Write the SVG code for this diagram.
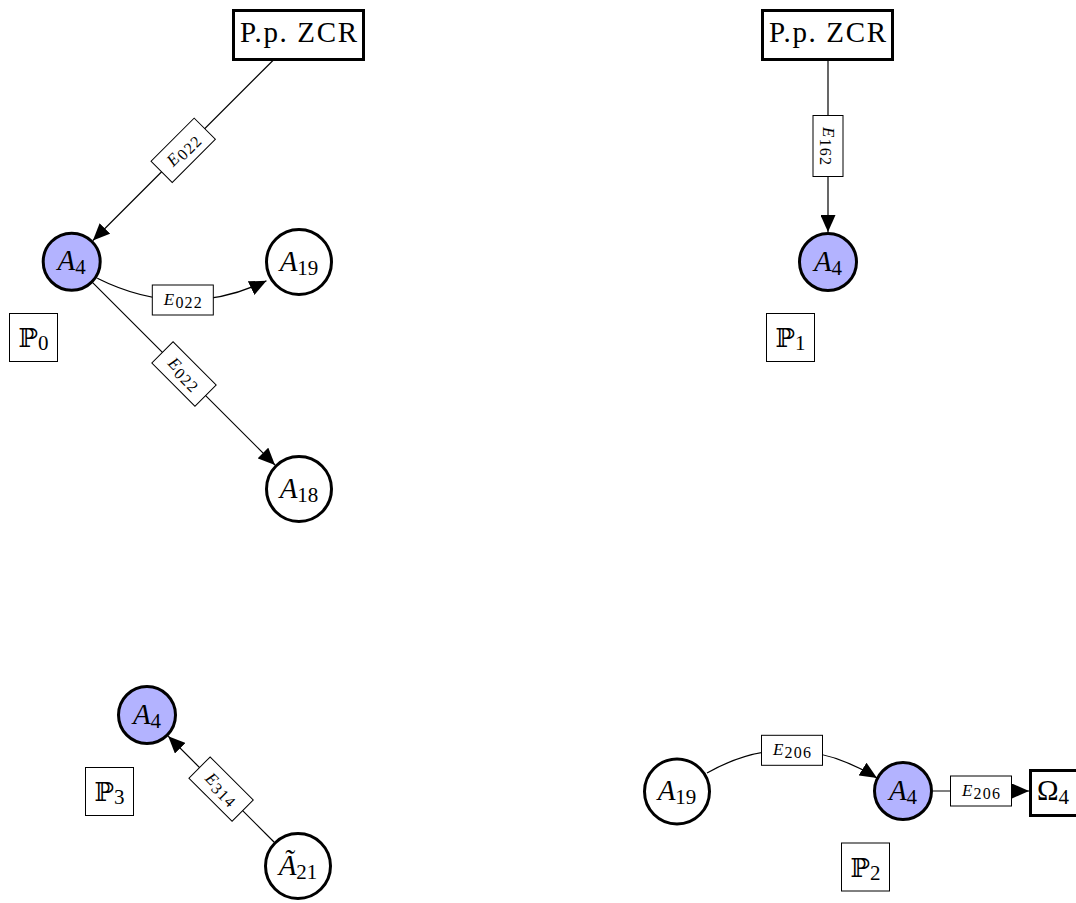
<svg xmlns="http://www.w3.org/2000/svg" width="1076" height="903" viewBox="0 0 1076 903">
<style>
.node{fill:#fff;stroke:#000;stroke-width:3}
.hl{fill:#b3b3ff}
.box{fill:#fff;stroke:#000;stroke-width:3}
.edge{fill:none;stroke:#000;stroke-width:1.2}
.lbox{fill:#fff;stroke:#000;stroke-width:1}
.pbox{fill:#fff;stroke:#000;stroke-width:1}
.nl{font-family:"Liberation Serif",serif;font-size:29px;text-anchor:middle;fill:#000}
.it{font-style:italic}
.sub{font-size:21px}
.el{font-family:"Liberation Serif",serif;font-size:17px;text-anchor:middle;fill:#000}
.esub{font-size:16px;font-style:normal}
.pl{font-family:"DejaVu Serif","DejaVu Sans",serif;font-size:26px;text-anchor:middle;fill:#000}
.psub{font-family:"Liberation Serif",serif;font-size:21px}
</style>
<defs>
<marker id="arr" markerUnits="userSpaceOnUse" markerWidth="17" markerHeight="15" refX="17" refY="7.5" orient="auto">
<path d="M0,0 L17,7.5 L0,15 z" fill="#000"/>
</marker>
</defs>

<g id="connectors">
<path class="edge" d="M273.4,60 L92.9,240.5" marker-end="url(#arr)"/>
<path class="edge" d="M97.3,278.3 Q182.4,320.9 266.5,280.8" marker-end="url(#arr)"/>
<path class="edge" d="M92.9,282.9 L275,465" marker-end="url(#arr)"/>
<path class="edge" d="M828,60 L828,232" marker-end="url(#arr)"/>
<path class="edge" d="M707,773 Q791.5,725.1 877,778" marker-end="url(#arr)"/>
<path class="edge" d="M933,791 L1029,791" marker-end="url(#arr)"/>
<path class="edge" d="M274,842 L168.2,736.2" marker-end="url(#arr)"/>

<g id="lbl-p0-a" transform="translate(183.2,150.3) rotate(-45)">
<rect class="lbox" x="-30.5" y="-15" width="61" height="30"/>
<text class="el" y="5" textLength="38" lengthAdjust="spacing"><tspan class="it">E</tspan><tspan class="esub" dy="3">022</tspan></text>
</g>
<g id="lbl-p0-b" transform="translate(182.8,300)">
<rect class="lbox" x="-30.5" y="-15" width="61" height="30"/>
<text class="el" y="5" textLength="38" lengthAdjust="spacing"><tspan class="it">E</tspan><tspan class="esub" dy="3">022</tspan></text>
</g>
<g id="lbl-p0-c" transform="translate(184,374) rotate(45)">
<rect class="lbox" x="-30.5" y="-15" width="61" height="30"/>
<text class="el" y="5" textLength="38" lengthAdjust="spacing"><tspan class="it">E</tspan><tspan class="esub" dy="3">022</tspan></text>
</g>
<g id="lbl-p1" transform="translate(828,146) rotate(90)">
<rect class="lbox" x="-30.5" y="-15" width="61" height="30"/>
<text class="el" y="5" textLength="38" lengthAdjust="spacing"><tspan class="it">E</tspan><tspan class="esub" dy="3">162</tspan></text>
</g>
<g id="lbl-p2-a" transform="translate(792,750.3)">
<rect class="lbox" x="-30.5" y="-15" width="61" height="30"/>
<text class="el" y="5" textLength="38" lengthAdjust="spacing"><tspan class="it">E</tspan><tspan class="esub" dy="3">206</tspan></text>
</g>
<g id="lbl-p2-b" transform="translate(981,791)">
<rect class="lbox" x="-30.5" y="-15" width="61" height="30"/>
<text class="el" y="5" textLength="38" lengthAdjust="spacing"><tspan class="it">E</tspan><tspan class="esub" dy="3">206</tspan></text>
</g>
<g id="lbl-p3" transform="translate(221.1,789.1) rotate(45)">
<rect class="lbox" x="-30.5" y="-15" width="61" height="30"/>
<text class="el" y="5" textLength="38" lengthAdjust="spacing"><tspan class="it">E</tspan><tspan class="esub" dy="3">314</tspan></text>
</g>
</g>

<g id="p0-zcr">
<rect class="box" x="233.5" y="10.5" width="130" height="49"/>
<text class="nl" x="298.5" y="42" textLength="117" lengthAdjust="spacing">P.p. ZCR</text>
</g>
<g id="p0-a4">
<circle class="node hl" cx="71.7" cy="261.7" r="28.5"/>
<text class="nl" x="71.7" y="270.2"><tspan class="it">A</tspan><tspan class="sub" dy="4">4</tspan></text>
</g>
<g id="p0-a19">
<circle class="node" cx="299" cy="262" r="32.5"/>
<text class="nl" x="299" y="270.5"><tspan class="it">A</tspan><tspan class="sub" dy="4">19</tspan></text>
</g>
<g id="p0-a18">
<circle class="node" cx="299" cy="489" r="32.5"/>
<text class="nl" x="299" y="497.5"><tspan class="it">A</tspan><tspan class="sub" dy="4">18</tspan></text>
</g>
<g id="p0-label">
<rect class="pbox" x="9.5" y="313.5" width="48" height="48"/>
<text class="pl" x="33.5" y="347">ℙ<tspan class="psub" dy="3">0</tspan></text>
</g>

<g id="p1-zcr">
<rect class="box" x="762.5" y="10.5" width="130" height="49"/>
<text class="nl" x="827.5" y="42" textLength="117" lengthAdjust="spacing">P.p. ZCR</text>
</g>
<g id="p1-a4">
<circle class="node hl" cx="828" cy="262" r="28.5"/>
<text class="nl" x="828" y="270.5"><tspan class="it">A</tspan><tspan class="sub" dy="4">4</tspan></text>
</g>
<g id="p1-label">
<rect class="pbox" x="766.5" y="313.5" width="48" height="48"/>
<text class="pl" x="790.5" y="347">ℙ<tspan class="psub" dy="3">1</tspan></text>
</g>

<g id="p2-a19">
<circle class="node" cx="677" cy="791.5" r="32.5"/>
<text class="nl" x="677" y="800"><tspan class="it">A</tspan><tspan class="sub" dy="4">19</tspan></text>
</g>
<g id="p2-a4">
<circle class="node hl" cx="903" cy="791" r="28.5"/>
<text class="nl" x="903" y="799.5"><tspan class="it">A</tspan><tspan class="sub" dy="4">4</tspan></text>
</g>
<g id="p2-omega">
<rect class="box" x="1030.5" y="770.5" width="48" height="45"/>
<text class="nl" x="1053" y="800">Ω<tspan class="sub" dy="4">4</tspan></text>
</g>
<g id="p2-label">
<rect class="pbox" x="841.5" y="843" width="48" height="48"/>
<text class="pl" x="865.5" y="876.5">ℙ<tspan class="psub" dy="3">2</tspan></text>
</g>

<g id="p3-a4">
<circle class="node hl" cx="147" cy="715" r="28.5"/>
<text class="nl" x="147" y="723.5"><tspan class="it">A</tspan><tspan class="sub" dy="4">4</tspan></text>
</g>
<g id="p3-a21">
<circle class="node" cx="298" cy="866" r="32.5"/>
<text class="nl" x="298" y="874.5"><tspan class="it">Ã</tspan><tspan class="sub" dy="4">21</tspan></text>
</g>
<g id="p3-label">
<rect class="pbox" x="85.5" y="767.5" width="48" height="48"/>
<text class="pl" x="109.5" y="801">ℙ<tspan class="psub" dy="3">3</tspan></text>
</g>
</svg>
